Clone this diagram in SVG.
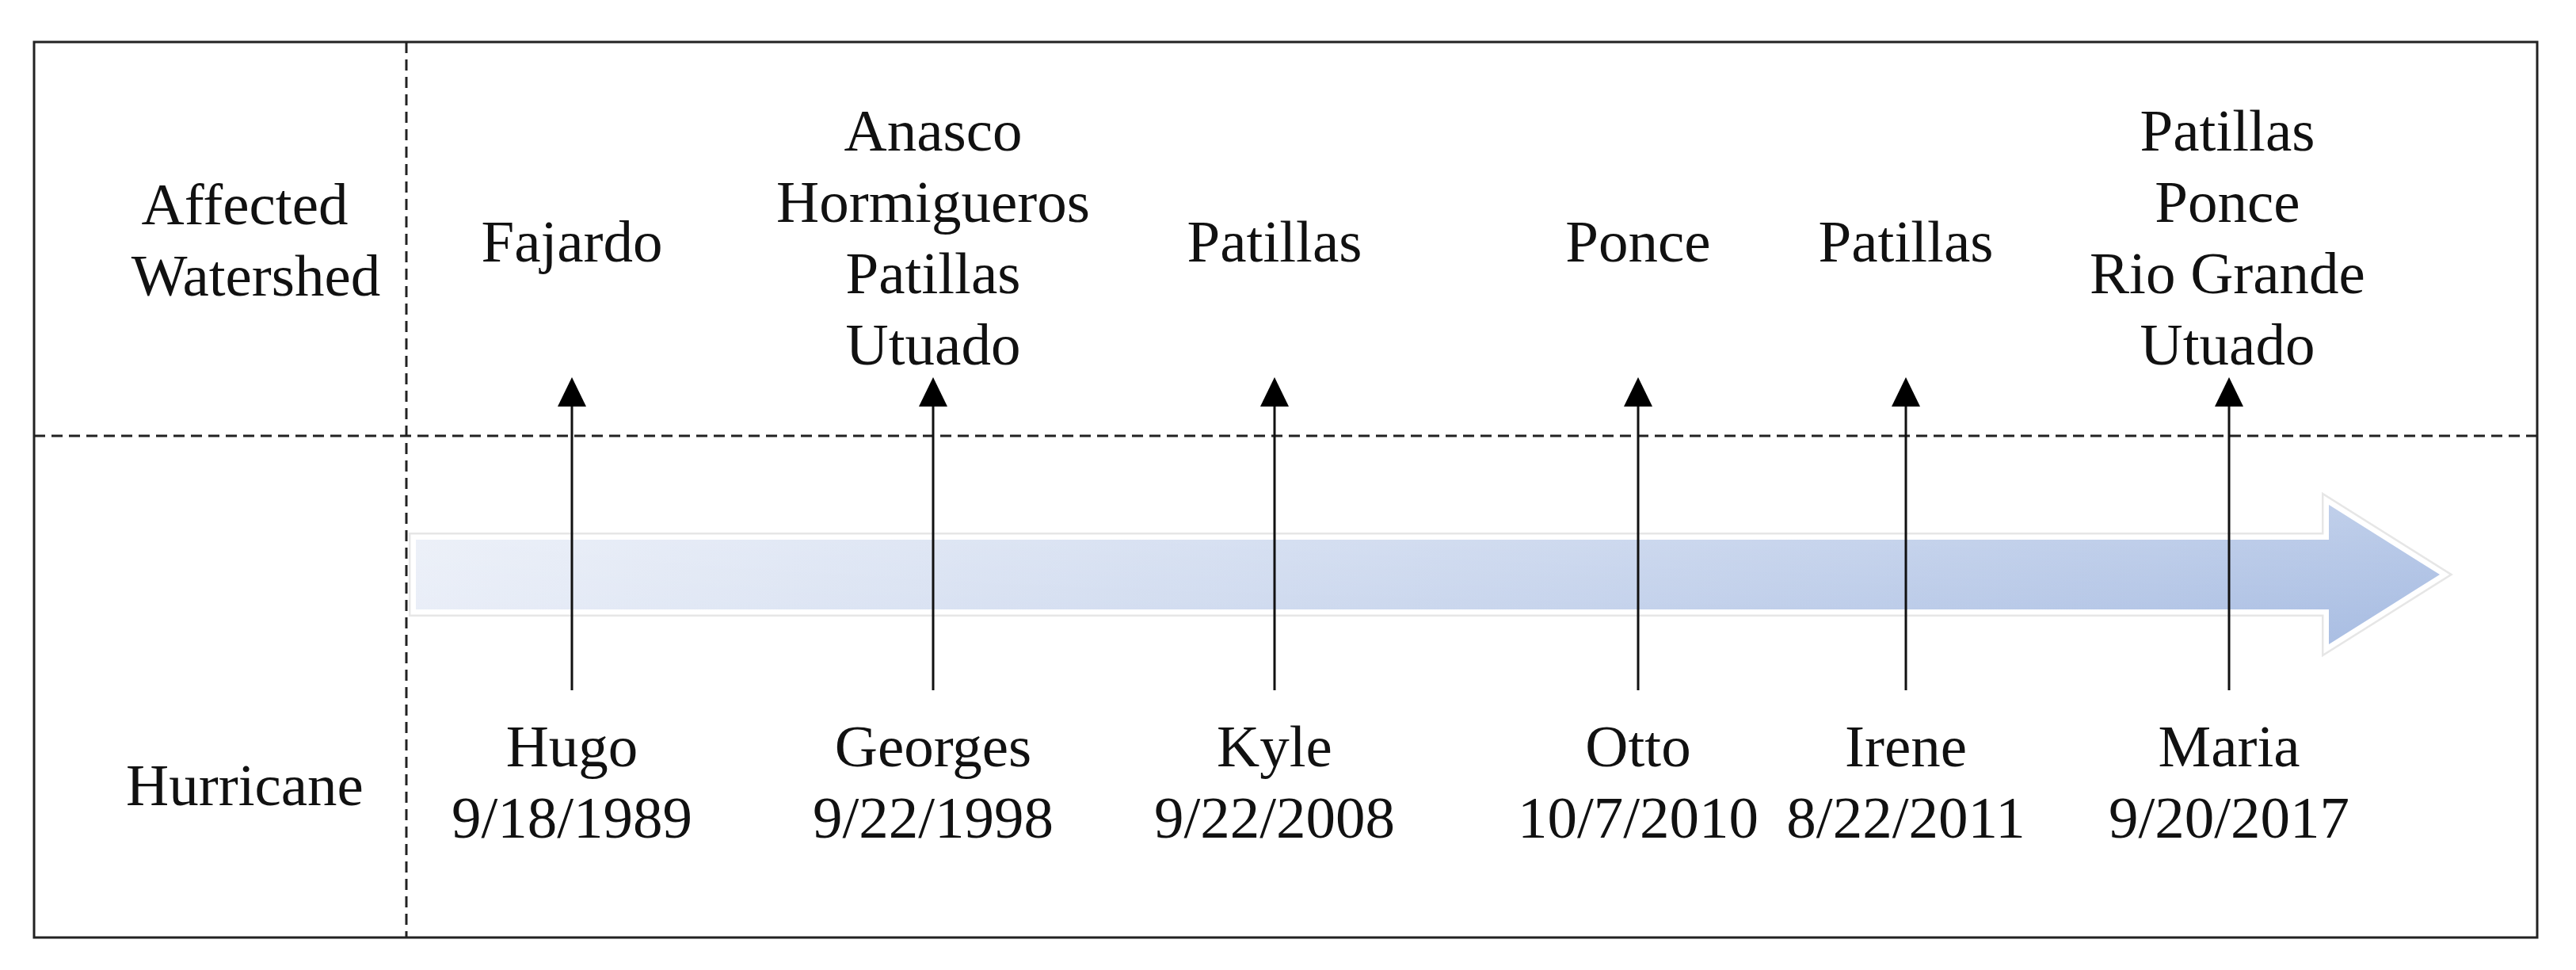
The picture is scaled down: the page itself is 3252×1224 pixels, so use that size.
<svg xmlns="http://www.w3.org/2000/svg" width="3252" height="1224" viewBox="0 0 3252 1224">
<style>
text{font-family:"Liberation Serif","Times New Roman",serif;font-size:75px;fill:#111;text-anchor:middle}
.frame{fill:#fff;stroke:#222;stroke-width:3}
.dash{stroke:#222;stroke-width:3;stroke-dasharray:14 8;fill:none}
.conn{stroke:#111;stroke-width:3;fill:none;marker-end:url(#ah)}
</style>
<defs>
<marker id="ah" markerUnits="userSpaceOnUse" viewBox="0 -18 37 36" refX="0" refY="0" markerWidth="37" markerHeight="36" orient="auto">
<path d="M0,-18 L37,0 L0,18 Z" fill="#000"/>
</marker>
<linearGradient id="gh" gradientUnits="userSpaceOnUse" x1="525" y1="640" x2="3080" y2="810">
<stop offset="0" stop-color="#e8edf7"/>
<stop offset="1" stop-color="#a7bce2"/>
</linearGradient>
<linearGradient id="gv" x1="0" y1="0" x2="0" y2="1">
<stop offset="0" stop-color="#fff" stop-opacity="0.25"/>
<stop offset="1" stop-color="#fff" stop-opacity="0"/>
</linearGradient>
</defs>
<rect width="3252" height="1224" fill="#fff"/>
<g id="frame">
<rect class="frame" x="43" y="53" width="3160" height="1130"/>
<path class="dash" d="M513,53 V1183"/>
<path class="dash" d="M43,550 H3203"/>
</g>
<g id="timeline-arrow">
<path d="M525,681 H2940 V637 L3080,725 L2940,813 V769 H525 Z" fill="none" stroke="#e6e6e6" stroke-width="18" stroke-linejoin="miter"/>
<path d="M525,681 H2940 V637 L3080,725 L2940,813 V769 H525 Z" fill="none" stroke="#fff" stroke-width="13" stroke-linejoin="miter"/>
<path d="M525,681 H2940 V637 L3080,725 L2940,813 V769 H525 Z" fill="url(#gh)"/>
<path d="M525,681 H2940 V637 L3080,725 L2940,813 V769 H525 Z" fill="url(#gv)"/>
</g>
<g id="connectors">
<path class="conn" d="M722,871 V513"/>
<path class="conn" d="M1178,871 V513"/>
<path class="conn" d="M1609,871 V513"/>
<path class="conn" d="M2068,871 V513"/>
<path class="conn" d="M2406,871 V513"/>
<path class="conn" d="M2814,871 V513"/>
</g>
<g id="label-affected">
<text x="309" y="283">Affected</text>
<text x="323" y="373">Watershed</text>
</g>
<g id="label-hurricane">
<text x="309" y="1016">Hurricane</text>
</g>
<g id="ws-hugo"><text x="722" y="330">Fajardo</text></g>
<g id="ws-georges">
<text x="1178" y="190">Anasco</text>
<text x="1178" y="280">Hormigueros</text>
<text x="1178" y="370">Patillas</text>
<text x="1178" y="460">Utuado</text>
</g>
<g id="ws-kyle"><text x="1609" y="330">Patillas</text></g>
<g id="ws-otto"><text x="2068" y="330">Ponce</text></g>
<g id="ws-irene"><text x="2406" y="330">Patillas</text></g>
<g id="ws-maria">
<text x="2812" y="190">Patillas</text>
<text x="2812" y="280">Ponce</text>
<text x="2812" y="370">Rio Grande</text>
<text x="2812" y="460">Utuado</text>
</g>
<g id="h-hugo"><text x="722" y="967">Hugo</text><text x="722" y="1057">9/18/1989</text></g>
<g id="h-georges"><text x="1178" y="967">Georges</text><text x="1178" y="1057">9/22/1998</text></g>
<g id="h-kyle"><text x="1609" y="967">Kyle</text><text x="1609" y="1057">9/22/2008</text></g>
<g id="h-otto"><text x="2068" y="967">Otto</text><text x="2068" y="1057">10/7/2010</text></g>
<g id="h-irene"><text x="2406" y="967">Irene</text><text x="2406" y="1057">8/22/2011</text></g>
<g id="h-maria"><text x="2814" y="967">Maria</text><text x="2814" y="1057">9/20/2017</text></g>
</svg>
